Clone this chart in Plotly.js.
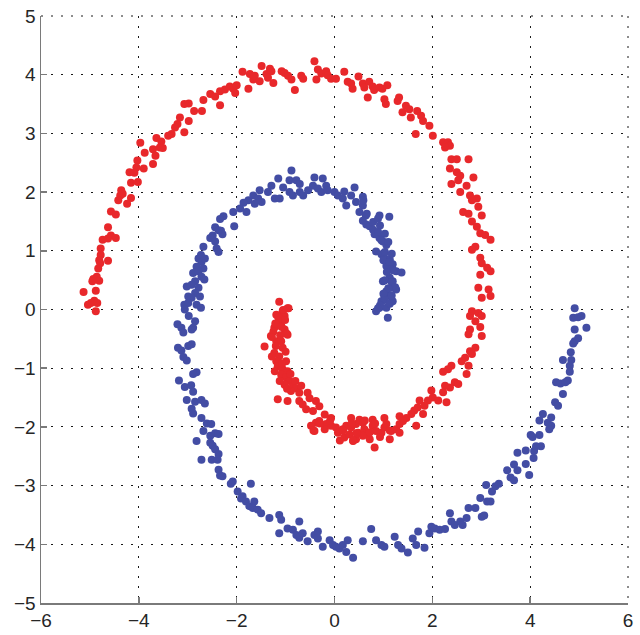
<!DOCTYPE html>
<html>
<head>
<meta charset="utf-8">
<script src="https://cdn.plot.ly/plotly-3.0.1.min.js"></script>
<style>html,body{margin:0;padding:0;background:#fff;}#chart{width:640px;height:635px;}</style>
</head>
<body>
<div id="chart"></div>
<script>
// Red spiral (class 1)
const redX = [
-2.34,-2.54,-2.44,-2.68,-2.34,-2.71,-2.87,-2.98,-3.07,-2.98,-3.16,-3.21,-3.26,-3.07,-3.33,-3.40,-3.64,-3.54,-3.57,-3.71,-3.51,-3.66,-3.71,-3.88,-3.97,-4.03,-4.05,-3.90,-4.19,-4.09,-4.16,-4.02,-4.36,-4.38,-4.33,-4.42,-4.16,-4.24,-4.57,-4.47,
-4.63,-4.57,-4.47,-4.63,-4.74,-4.78,-4.78,-4.81,-4.63,-4.79,-4.83,-4.86,-4.93,-4.81,-4.95,-4.88,-5.13,-4.91,-4.98,-4.85,-5.04,-4.88,
-2.24,-2.14,-2.07,-2.03,-2.00,-1.88,-1.76,-1.73,-1.66,-1.63,-1.53,-1.49,-1.39,-1.32,-1.29,-1.25,-1.36,-1.08,-1.02,-0.95,-0.88,-0.81,-0.68,-0.64,-0.41,-0.34,-0.37,-0.27,-0.17,-0.14,-0.07,0.03,0.20,0.27,0.34,0.37,0.49,0.58,0.61,0.68,0.71,0.78,0.81,0.92,0.98,1.02,1.08,1.05,1.29,1.32,1.39,1.46,1.53,1.56,1.66,1.69,
1.77,1.81,1.94,2.01,2.22,2.32,2.36,2.26,2.39,2.50,2.74,2.36,2.50,2.57,2.39,2.53,2.84,2.70,2.57,2.77,2.91,2.94,2.63,2.74,3.01,2.81,
2.81,2.91,2.98,3.08,3.19,2.88,2.81,2.98,3.01,3.12,3.19,2.98,2.94,3.15,3.19,3.01,2.81,2.77,2.94,3.01,2.88,2.98,2.77,2.74,3.01,2.88,2.77,2.81,2.67,2.60,2.74,2.70,2.39,2.32,2.22,2.46,2.53,2.36,2.26,2.22,1.98,2.01,1.91,2.29,2.12,1.74,1.70,1.63,1.84,1.57,1.81,
-1.13,-0.96,-1.06,-1.19,-1.02,-1.13,-1.09,-1.23,-1.02,-0.96,-1.30,-1.19,-1.09,-1.43,-1.06,-1.23,-1.13,-1.19,-0.99,-1.16,-1.06,-0.96,-1.09,-0.99,-0.92,-1.02,-0.85,-0.78,-0.89,-0.72,-0.55,-1.16,-0.96,-0.72,-0.65,-0.51,-0.38,-0.31,-0.58,-0.44,-0.20,-0.07,0.34,0.51,0.78,1.02,1.33,1.47,
-0.94,-1.05,-1.15,-1.01,-1.21,-1.08,-1.25,-0.98,-1.11,-1.28,-1.20,-1.00,-1.28,-1.07,-1.22,-0.90,-1.12,-0.80,-0.97,-0.68,
-0.38,-0.48,-0.41,-0.31,-0.17,-0.20,-0.07,0.03,0.07,0.17,0.24,0.20,0.31,0.38,0.34,0.44,0.48,0.58,0.61,0.68,0.72,0.78,0.82,0.85,0.96,1.02,1.06,1.13,1.16,1.26,1.33,1.40,1.67,1.33,0.58,0.44,
0.18,0.35,0.45,0.62,0.72,0.83,0.93,0.11,0.38,1.13,-0.09,-0.43,-0.30
];
const redY = [
3.72,3.67,3.63,3.57,3.48,3.38,3.38,3.51,3.50,3.21,3.27,3.16,3.10,3.02,2.99,2.96,2.92,2.86,2.76,2.73,2.75,2.62,2.48,2.67,2.84,2.54,2.42,2.40,2.34,2.33,2.16,2.17,2.03,1.94,1.97,1.86,1.90,1.80,1.67,1.62,
1.40,1.26,1.22,1.21,1.19,1.04,0.93,0.84,0.83,0.79,0.70,0.56,0.52,0.49,0.48,0.32,0.30,0.15,0.11,0.11,0.08,-0.03,
3.75,3.80,3.76,3.69,3.82,4.05,3.76,4.01,3.92,3.98,3.89,4.15,4.01,4.10,4.06,3.86,3.95,4.06,4.03,3.98,3.92,3.74,3.98,3.93,4.23,4.09,3.92,4.02,4.06,3.99,3.93,3.93,4.05,3.88,3.85,3.76,3.97,3.85,3.78,3.61,3.88,3.80,3.74,3.78,3.76,3.58,3.82,3.50,3.55,3.61,3.36,3.47,3.41,3.27,2.99,3.38,
3.30,3.21,3.13,2.96,2.85,2.85,2.79,2.76,2.56,2.56,2.56,2.40,2.34,2.28,2.14,2.20,2.25,2.11,2.00,1.94,1.89,1.75,1.66,1.63,1.60,1.86,
1.50,1.41,1.30,1.27,1.19,1.07,1.02,0.88,0.79,0.71,0.65,0.59,0.37,0.34,0.23,0.20,-0.03,-0.11,-0.06,-0.11,-0.20,-0.30,-0.34,-0.42,-0.45,-0.65,-0.71,-0.76,-0.82,-0.88,-0.96,-1.10,-0.96,-1.02,-1.06,-1.24,-1.27,-1.33,-1.30,-1.41,-1.38,-1.50,-1.55,-1.58,-1.55,-1.55,-1.67,-1.72,-1.64,-1.78,-1.78,
0.13,0.02,-0.03,-0.09,-0.11,-0.20,-0.28,-0.31,-0.34,-0.43,-0.45,-0.54,-0.54,-0.63,-0.65,-0.74,-0.80,-0.88,-0.88,-0.97,-1.02,-1.05,-1.11,-1.16,-1.22,-1.28,-1.31,-1.34,-1.39,-1.42,-1.42,-1.53,-1.56,-1.56,-1.62,-1.51,-1.56,-1.65,-1.70,-1.73,-1.79,-1.85,-1.85,-1.88,-1.88,-1.85,-1.82,-1.85,
0.02,-0.01,-0.13,-0.18,-0.24,-0.30,-0.38,-0.41,-0.44,-0.47,-0.62,-0.72,-0.80,-0.92,-1.05,-1.10,-1.22,-1.22,-1.35,-1.30,
-1.93,-1.98,-2.07,-1.90,-1.95,-2.04,-1.98,-2.01,-2.10,-2.04,-1.98,-2.18,-2.13,-2.24,-2.01,-1.95,-2.10,-1.93,-2.04,-2.13,-2.21,-1.98,-2.35,-2.07,-2.10,-2.01,-1.95,-2.21,-2.07,-2.04,-1.95,-1.90,-1.98,-2.10,-2.15,-2.21,
-2.06,-1.94,-2.11,-1.89,-2.09,-1.94,-2.17,-2.23,-2.23,-2.06,-1.89,-2.06,-1.94
];

// Blue spiral (class 2)
const blueX = [
-0.88,-1.15,-0.92,-0.78,-0.71,-0.41,-0.24,-0.17,-0.44,-0.34,-0.54,-0.71,-0.92,-0.85,-1.05,-1.29,-1.36,-1.53,-1.66,-1.56,-1.76,-1.86,-1.49,-1.22,-1.12,-0.64,-0.27,-0.14,0.00,0.07,0.20,0.17,0.41,0.34,0.24,0.44,0.58,0.58,0.51,0.64,0.92,1.12,-2.07,-2.27,-1.93,-1.80,-1.63,
-2.05,-2.32,-2.29,0.58,0.65,0.72,0.79,0.82,0.92,0.99,1.06,0.85,0.96,1.02,1.13,1.19,1.06,1.16,1.26,1.37,1.13,0.99,1.19,1.16,1.06,1.26,1.13,1.02,0.96,1.19,0.92,0.85,1.06,1.09,
0.59,0.66,0.79,0.93,0.89,1.03,0.96,1.10,1.03,1.17,1.00,1.13,1.20,1.07,1.03,1.17,1.24,1.10,1.00,1.17,1.03,0.93,1.13,0.89,0.89,
-2.34,-2.44,-2.37,-2.49,-2.54,-2.44,-2.41,-2.37,-2.68,-2.73,-2.78,-2.72,-2.65,-2.82,-2.68,-2.89,-2.78,-2.72,-2.66,-2.85,-2.92,-3.02,-2.78,-2.85,-2.75,-2.99,-2.92,-3.07,-2.99,-2.82,-2.73,-3.06,-2.98,-2.85,-2.89,-2.92,-3.21,-3.13,-3.09,-3.20,-3.13,-3.09,-3.02,-2.99,-2.92,-2.82,-2.89,-3.18,-3.06,-2.93,-2.89,-3.02,-2.85,-2.72,-2.65,-2.92,-2.89,-2.72,
-2.61,-2.52,-2.68,-2.54,-2.44,-2.37,-2.82,-2.54,-2.49,-2.44,-2.37,-2.72,-2.51,-2.39,-2.37,-2.34,
-2.29,-2.08,-2.12,-1.98,-1.71,-1.88,-1.91,-1.81,-1.64,-1.74,-1.67,-1.57,-1.50,-1.33,-1.13,-1.09,-1.13,-0.96,-0.85,-0.72,-0.78,-0.72,-0.65,-0.55,-0.41,-0.34,-0.34,-0.24,-0.10,-0.03,0.03,0.10,0.17,0.27,0.24,0.38,0.58,0.75,0.85,0.96,1.02,1.23,1.30,1.37,1.50,1.60,1.71,1.67,
1.84,1.94,1.98,2.05,2.15,2.26,2.36,2.39,2.46,2.57,2.62,2.70,2.74,2.88,3.01,3.06,2.98,3.12,3.19,3.10,3.22,3.29,3.36,3.53,3.60,3.67,3.67,3.74,3.74,3.91,3.91,3.98,4.01,4.05,4.07,4.08,4.12,4.19,4.22,4.19,4.26,4.36,4.43,4.43,4.39,
4.91,4.88,4.98,5.05,5.15,4.91,4.98,4.91,4.88,4.83,4.67,4.84,4.81,4.81,4.77,4.53,4.62,4.72,4.67,4.51,4.57
];
const blueY = [
2.37,2.23,2.20,2.20,2.14,2.25,2.23,2.11,2.11,2.06,2.03,2.00,2.00,1.94,2.08,2.11,2.00,2.03,1.94,1.89,1.86,1.82,1.83,1.89,1.89,1.94,2.00,2.03,2.00,1.94,2.01,1.89,2.08,1.94,1.77,1.83,1.92,1.77,1.66,1.60,1.60,1.58,1.66,1.59,1.72,1.66,1.80,
1.42,1.34,1.28,1.51,1.45,1.42,1.36,1.28,1.22,1.16,1.10,0.99,0.94,0.88,0.85,0.77,0.74,0.68,0.65,0.63,0.54,0.48,0.48,0.37,0.31,0.34,0.23,0.20,0.14,0.14,0.03,-0.03,0.03,-0.14,
1.86,1.63,1.49,1.43,1.32,1.29,1.18,1.15,0.98,0.95,0.84,0.81,0.67,0.64,0.50,0.47,0.38,0.36,0.27,0.24,0.16,0.07,0.10,0.02,1.55,
1.54,1.40,1.35,1.26,1.22,1.16,1.04,0.98,1.07,0.93,0.87,0.81,0.87,0.73,0.70,0.62,0.65,0.56,0.51,0.48,0.42,0.39,0.37,0.28,0.22,0.22,0.20,0.08,0.11,0.08,0.03,0.00,-0.11,-0.20,-0.31,-0.34,-0.25,-0.31,-0.39,-0.65,-0.70,-0.81,-0.87,-0.62,-0.59,-1.07,-1.10,-1.21,-1.32,-1.29,-1.40,-1.54,-1.57,-1.54,-1.60,-1.69,-1.77,-1.85,
-1.94,-1.95,-2.07,-2.15,-2.11,-2.12,-2.24,-2.27,-2.32,-2.38,-2.46,-2.56,-2.56,-2.56,-2.73,-2.83,
-2.84,-2.93,-2.97,-3.10,-2.97,-3.18,-3.22,-3.27,-3.27,-3.35,-3.38,-3.41,-3.47,-3.55,-3.50,-3.58,-3.81,-3.73,-3.75,-3.61,-3.84,-3.89,-3.81,-3.95,-3.84,-3.78,-3.90,-4.04,-3.93,-4.01,-4.04,-4.07,-4.01,-3.93,-4.13,-4.23,-3.95,-3.74,-3.93,-4.01,-4.04,-3.87,-4.01,-4.07,-4.14,-3.90,-3.78,-4.01,
-4.06,-3.81,-3.70,-3.73,-3.75,-3.74,-3.47,-3.61,-3.67,-3.61,-3.67,-3.55,-3.38,-3.38,-3.53,-3.51,-3.21,-3.27,-3.27,-2.99,-3.10,-3.01,-2.97,-2.74,-2.86,-2.91,-2.64,-2.74,-2.44,-2.63,-2.40,-2.82,-2.14,-2.17,-2.53,-2.41,-2.33,-2.14,-2.33,-1.89,-1.78,-1.93,-1.84,-1.98,-2.04,
0.02,-0.14,-0.13,-0.11,-0.31,-0.34,-0.49,-0.54,-0.58,-0.73,-0.86,-0.86,-0.96,-1.06,-1.21,-1.24,-1.26,-1.24,-1.44,-1.58,-1.64
];

const tickFont = {family: '"Liberation Sans", Arial, Helvetica, sans-serif', size: 19, color: '#262626'};

const traces = [
  {x: redX, y: redY, type: 'scatter', mode: 'markers', name: 'class 1',
   marker: {color: '#e8282b', size: 8, line: {width: 0}}},
  {x: blueX, y: blueY, type: 'scatter', mode: 'markers', name: 'class 2',
   marker: {color: '#434da4', size: 8, line: {width: 0}}}
];

const DOT = '2px,8px';
const gridStyle = {showgrid: true, gridcolor: '#1a1a1a', gridwidth: 1, griddash: DOT};

const layout = {
  width: 640, height: 635,
  margin: {l: 41, r: 12, t: 16, b: 32, pad: 0},
  paper_bgcolor: '#ffffff', plot_bgcolor: '#ffffff',
  showlegend: false,
  xaxis: Object.assign({
    range: [-6, 6], tickmode: 'array', tickvals: [-6, -4, -2, 0, 2, 4, 6],
    zeroline: false, showline: true, linecolor: '#7a7a7a', linewidth: 1.5,
    ticks: 'inside', ticklen: 6, tickcolor: '#7a7a7a', tickwidth: 1.5,
    tickfont: tickFont, fixedrange: true
  }, gridStyle),
  yaxis: Object.assign({
    range: [-5, 5], tickmode: 'array', tickvals: [-5, -4, -3, -2, -1, 0, 1, 2, 3, 4, 5],
    zeroline: false, showline: true, linecolor: '#7a7a7a', linewidth: 1.5,
    ticks: 'inside', ticklen: 6, tickcolor: '#7a7a7a', tickwidth: 1.5,
    tickfont: tickFont, fixedrange: true
  }, gridStyle),
  // dotted frame on the top and right edges (grid lines at the range ends)
  shapes: [
    {type: 'line', xref: 'paper', yref: 'paper', x0: 0, x1: 1, y0: 1, y1: 1, layer: 'below',
     line: {color: '#1a1a1a', width: 1, dash: DOT}},
    {type: 'line', xref: 'paper', yref: 'paper', x0: 1, x1: 1, y0: 1, y1: 0, layer: 'below',
     line: {color: '#1a1a1a', width: 1, dash: DOT}}
  ]
};

Plotly.newPlot('chart', traces, layout, {displayModeBar: false, staticPlot: true});
</script>
</body>
</html>
